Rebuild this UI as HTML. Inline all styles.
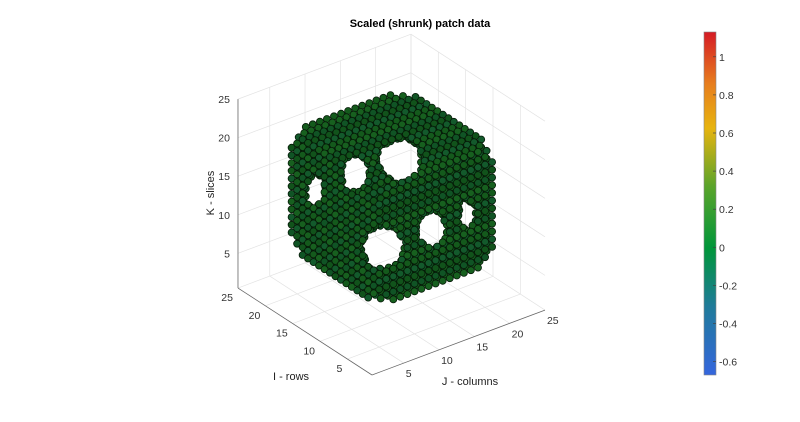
<!DOCTYPE html>
<html><head><meta charset="utf-8">
<style>
html,body{margin:0;padding:0;background:#fff;}
svg{display:block;font-family:"Liberation Sans",sans-serif;}
</style></head>
<body>
<svg id="chart" width="800" height="422" viewBox="0 0 800 422">
<defs>
<linearGradient id="cbg" x1="0" y1="1" x2="0" y2="0">
<stop offset="0" stop-color="#3566dd"/>
<stop offset="0.2" stop-color="#1f7b9a"/>
<stop offset="0.37" stop-color="#00963a"/>
<stop offset="0.55" stop-color="#5aa42a"/>
<stop offset="0.72" stop-color="#e7b40f"/>
<stop offset="0.85" stop-color="#e77d1e"/>
<stop offset="1" stop-color="#d51b25"/>
</linearGradient>
</defs>
<g id="grid"></g>
<g id="axes"></g>
<g id="vox"></g>
<text x="420" y="27" text-anchor="middle" font-size="11" font-weight="bold" fill="#000">Scaled (shrunk) patch data</text>
<text x="0" y="0" transform="translate(214,193) rotate(-90)" text-anchor="middle" font-size="11" fill="#222">K - slices</text>
<text x="291" y="380" text-anchor="middle" font-size="11" fill="#222">I - rows</text>
<text x="470" y="385" text-anchor="middle" font-size="11" fill="#222">J - columns</text>
<g id="cbar">
<rect x="704" y="32" width="12" height="343" fill="url(#cbg)" stroke="#888" stroke-width="0.6"/>
</g>
</svg>
<script>
// axis data
const axisMin = 0.5, axisMax = 25;
const iTicks = [5, 10, 15, 20, 25];
const jTicks = [5, 10, 15, 20, 25];
const kTicks = [5, 10, 15, 20, 25];
const cbTicks = [1, 0.8, 0.6, 0.4, 0.2, 0, -0.2, -0.4, -0.6];
const cbRange = [-0.67, 1.13];
// shape data
const cubeMin = [5, 5, 6];
const cubeMax = [21, 21, 21];
const shellThickness = [2];
const cornerRadius = [12.9];
// see-through tunnels (3D points along line of sight; I, J, K; half-widths in units)
const holeI = [11.5, 19.7, 27.0, 14.6, 5.7, -0.7];
const holeJ = [13, 13, 13, 13, 13, 13];
const holeK = [19.0, 13.5, 8.0, 6.3, 12.6, 17.5];
const holeRX = [2.5, 1.4, 0.7, 2.5, 1.6, 0.6];
const holeRY = [2.5, 2.0, 1.5, 2.5, 1.9, 1.5];

const NS = "http://www.w3.org/2000/svg";
const O = [372, 375], uJ = [7.06, -2.65], uI = [-5.47, -3.55], uK = [0, -7.71];
function P(i, j, k) {
  const a = i - axisMin, b = j - axisMin, c = k - axisMin;
  return [O[0] + a * uI[0] + b * uJ[0] + c * uK[0], O[1] + a * uI[1] + b * uJ[1] + c * uK[1]];
}
function line(g, p, q, col, w, name) {
  const l = document.createElementNS(NS, "line");
  l.setAttribute("x1", p[0]); l.setAttribute("y1", p[1]);
  l.setAttribute("x2", q[0]); l.setAttribute("y2", q[1]);
  l.setAttribute("stroke", col); l.setAttribute("stroke-width", w);
  
  
  g.appendChild(l);
}
function text(g, x, y, s, anchor, name) {
  const t = document.createElementNS(NS, "text");
  t.setAttribute("x", x); t.setAttribute("y", y);
  t.setAttribute("font-size", "10.5"); t.setAttribute("fill", "#333");
  t.setAttribute("text-anchor", anchor);
  t.textContent = s;
  
  
  g.appendChild(t);
}
const grid = document.getElementById("grid");
const gc = "#e3e3e3", m = axisMin, M = axisMax;
kTicks.forEach(k => {
  line(grid, P(M, m, k), P(M, M, k), gc, 0.7, "grid-k-back-left");
  line(grid, P(m, M, k), P(M, M, k), gc, 0.7, "grid-k-back-right");
});
jTicks.forEach(j => {
  line(grid, P(M, j, m), P(M, j, M), gc, 0.7, "grid-j-wall");
  line(grid, P(m, j, m), P(M, j, m), gc, 0.7, "grid-j-floor");
});
iTicks.forEach(i => {
  line(grid, P(i, M, m), P(i, M, M), gc, 0.7, "grid-i-wall");
  line(grid, P(i, m, m), P(i, M, m), gc, 0.7, "grid-i-floor");
});
line(grid, P(M, M, m), P(M, M, M), gc, 0.7, "grid-corner");
const axes = document.getElementById("axes");
const ac = "#666";
line(axes, P(m, m, m), P(M, m, m), ac, 0.8, "i-axis-line");
line(axes, P(m, m, m), P(m, M, m), ac, 0.8, "j-axis-line");
line(axes, P(M, m, m), P(M, m, M), ac, 0.8, "k-axis-line");
iTicks.forEach(i => { const p = P(i, m, m); text(axes, p[0] - 5, p[1] + 13, String(i), "end", "i-tick-label"); });
jTicks.forEach(j => { const p = P(m, j, m); text(axes, p[0] + 2, p[1] + 14, String(j), "start", "j-tick-label"); });
kTicks.forEach(k => { const p = P(M, m, k); text(axes, p[0] - 8, p[1] + 4, String(k), "end", "k-tick-label"); });

// voxels
const vox = document.getElementById("vox");
const list = [];
const t = shellThickness[0];
const unitPx = 7, markerR = 3.5;
const ctr = cubeMin.map((v, d) => (v + cubeMax[d]) / 2);
const holeScreen = holeI.map((v, n) => ({ p: P(v, holeJ[n], holeK[n]), rx: holeRX[n] * unitPx + markerR, ry: holeRY[n] * unitPx + markerR }));
for (let i = cubeMin[0]; i <= cubeMax[0]; i++)
for (let j = cubeMin[1]; j <= cubeMax[1]; j++)
for (let k = cubeMin[2]; k <= cubeMax[2]; k++) {
  const c = [i, j, k];
  const onShell = c.some((v, d) => v < cubeMin[d] + t || v > cubeMax[d] - t);
  if (!onShell) continue;
  if (Math.hypot(i - ctr[0], j - ctr[1], k - ctr[2]) > cornerRadius[0]) continue;
  const p = P(i, j, k);
  if (holeScreen.some(h => ((p[0] - h.p[0]) / h.rx) ** 2 + ((p[1] - h.p[1]) / h.ry) ** 2 <= 1)) continue;
  list.push(c);
}
list.sort((a, b) => (b[0] + b[1] - b[2]) - (a[0] + a[1] - a[2]));
const fills = ["#145a1c", "#11531b", "#17601f", "#135a2c", "#105425"];
list.forEach(c => {
  const p = P(c[0], c[1], c[2]);
  const e = document.createElementNS(NS, "circle");
  e.setAttribute("cx", p[0].toFixed(1)); e.setAttribute("cy", p[1].toFixed(1));
  e.setAttribute("r", markerR);
  e.setAttribute("fill", fills[(c[0] * 3 + c[1] * 5 + c[2] * 7) % fills.length]);
  e.setAttribute("stroke", "#061a08"); e.setAttribute("stroke-width", "0.8");
  
  
  vox.appendChild(e);
});

// colorbar ticks
const cb = document.getElementById("cbar");
function cbY(v) { return 375 - (v - cbRange[0]) / (cbRange[1] - cbRange[0]) * 343; }
cbTicks.forEach(v => {
  const y = cbY(v);
  line(cb, [716, y], [713, y], "#444", 0.7, "colorbar-tick");
  text(cb, 719, y + 4, String(v), "start", "colorbar-tick-label");
});
</script>
</body></html>
